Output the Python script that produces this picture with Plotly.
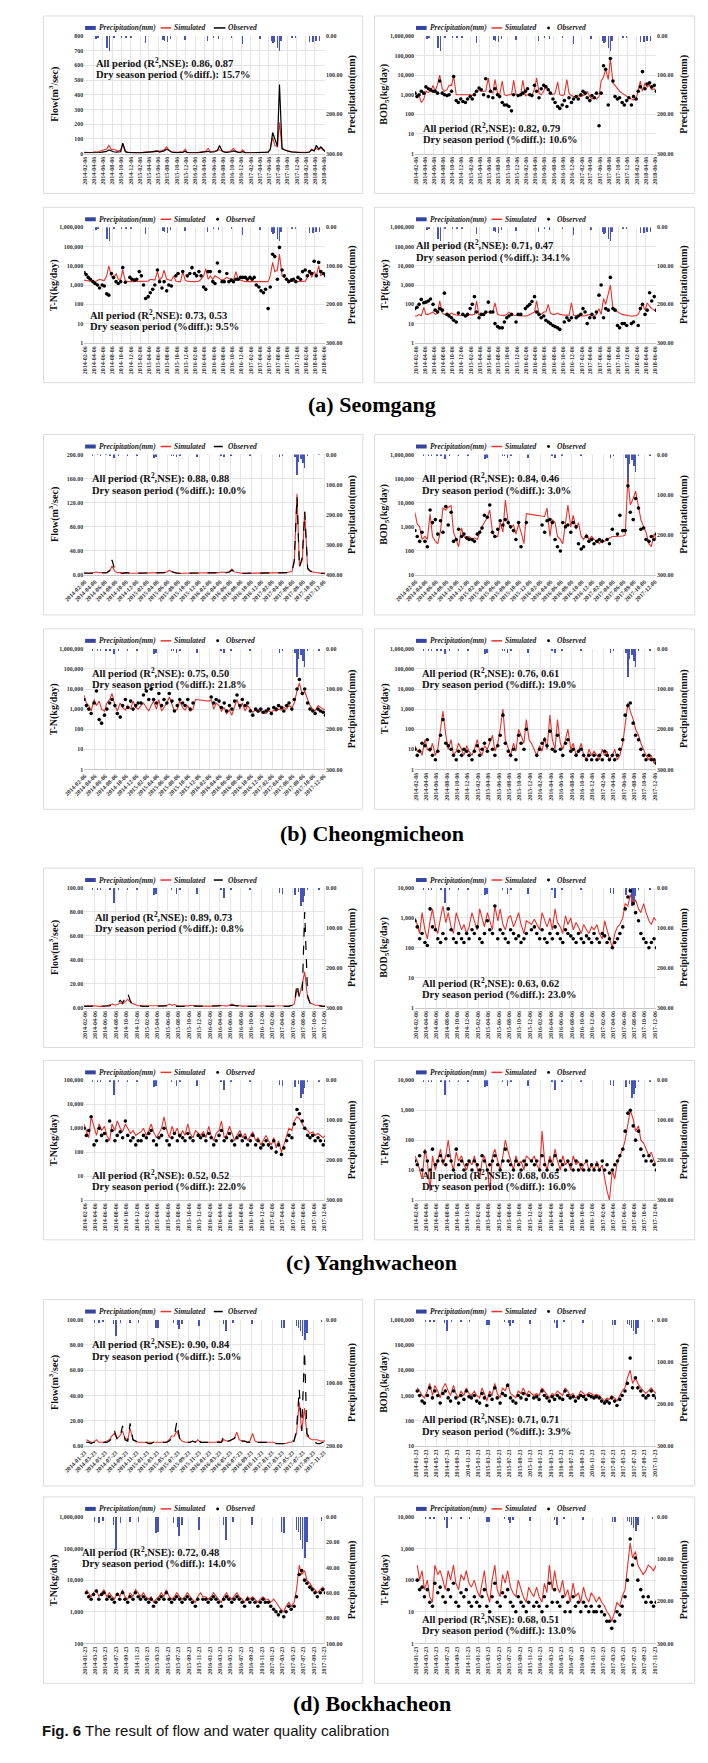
import plotly.graph_objects as go
import pandas as pd

W, H = 708, 1763

# ---------------- time grids (semi-monthly reading points) ----------------
dates_a = [d.strftime("%Y-%m-%d") for d in pd.date_range("2014-02-01", "2018-06-15", freq="SMS")]
dates_bcd = [d.strftime("%Y-%m-%d") for d in pd.date_range("2014-02-01", "2017-12-15", freq="SMS")]

ticks_a = ["2014-02-06", "2014-04-06", "2014-06-06", "2014-08-06", "2014-10-06", "2014-12-06",
           "2015-02-06", "2015-04-06", "2015-06-06", "2015-08-06", "2015-10-06", "2015-12-06",
           "2016-02-06", "2016-04-06", "2016-06-06", "2016-08-06", "2016-10-06", "2016-12-06",
           "2017-02-06", "2017-04-06", "2017-06-06", "2017-08-06", "2017-10-06", "2017-12-06",
           "2018-02-06", "2018-04-06", "2018-06-06"]
ticks_bc = ticks_a[:24]
ticks_d = ["2014-01-23", "2014-03-23", "2014-05-23", "2014-07-23", "2014-09-23", "2014-11-23",
           "2015-01-23", "2015-03-23", "2015-05-23", "2015-07-23", "2015-09-23", "2015-11-23",
           "2016-01-23", "2016-03-23", "2016-05-23", "2016-07-23", "2016-09-23", "2016-11-23",
           "2017-01-23", "2017-03-23", "2017-05-23", "2017-07-23", "2017-09-23", "2017-11-23"]

# ---------------- precipitation (mm) ----------------
a_pr_dates = ["2014-04-21", "2014-05-05", "2014-07-04", "2014-07-21", "2014-08-19", "2014-10-07", "2014-11-07",
              "2014-12-09", "2015-03-14", "2015-07-10", "2015-07-18", "2015-08-08", "2015-08-29", "2015-12-02",
              "2016-04-27", "2016-06-08", "2016-07-10", "2016-10-02", "2016-12-15", "2017-04-10", "2017-06-23",
              "2017-07-04", "2017-07-10", "2017-08-04", "2017-08-15", "2017-08-25", "2017-11-07", "2017-11-28",
              "2018-03-03", "2018-03-24", "2018-04-14", "2018-05-06"]
a_pr_vals = [8, 5, 30, 37, 6, 5, 4, 5, 17, 10, 12, 15, 8, 10, 14, 6, 8, 6, 20, 8, 12, 18, 15, 30, 37, 12, 5, 6,
             15, 15, 12, 14]

b_pr_dates = ["2014-03-24", "2014-04-21", "2014-05-10", "2014-06-10", "2014-07-04", "2014-07-28", "2014-08-23",
              "2014-10-14", "2014-12-09", "2015-03-17", "2015-03-30", "2015-06-30", "2015-07-10", "2015-07-28",
              "2015-08-16", "2015-11-25", "2016-04-12", "2016-05-01", "2016-06-12", "2016-09-30", "2017-03-21",
              "2017-04-08", "2017-06-21", "2017-07-03", "2017-07-10", "2017-07-25", "2017-08-07", "2017-08-14",
              "2017-08-31", "2017-11-07"]
b_pr_vals = [4, 3, 5, 3, 5, 12, 4, 5, 4, 12, 10, 4, 6, 10, 4, 10, 5, 10, 4, 5, 10, 6, 10, 70, 25, 15, 30, 45, 5, 3]

c_pr_dates = ["2014-03-24", "2014-04-21", "2014-05-10", "2014-07-04", "2014-07-28", "2014-08-23", "2014-10-14",
              "2014-12-09", "2015-03-17", "2015-03-30", "2015-06-30", "2015-07-28", "2015-08-16", "2015-11-25",
              "2016-04-12", "2016-05-01", "2016-06-12", "2016-09-30", "2017-03-21", "2017-04-08", "2017-06-21",
              "2017-07-10", "2017-07-25", "2017-08-07", "2017-08-16", "2017-08-31", "2017-11-07"]
c_pr_vals = [5, 4, 5, 5, 38, 6, 4, 4, 18, 16, 5, 14, 5, 14, 4, 26, 4, 6, 12, 15, 18, 10, 45, 35, 20, 5, 4]

d_pr_dates = ["2014-03-20", "2014-04-18", "2014-05-10", "2014-07-10", "2014-07-24", "2014-08-20", "2014-10-15",
              "2014-12-05", "2015-03-16", "2015-03-28", "2015-06-28", "2015-07-20", "2015-07-28", "2015-08-15",
              "2015-11-22", "2016-04-15", "2016-04-28", "2016-06-10", "2016-09-28", "2017-03-20", "2017-04-05",
              "2017-06-15", "2017-06-28", "2017-07-10", "2017-07-20", "2017-08-05", "2017-08-15", "2017-11-10"]
d_pr_vals = [4, 5, 3, 6, 26, 5, 4, 4, 13, 12, 5, 8, 15, 6, 10, 6, 18, 4, 6, 12, 13, 10, 12, 18, 25, 32, 20, 3]

# ---------------- (a) Seomgang ----------------
a_flow_sim = [8, 7, 6, 7, 9, 12, 10, 14, 20, 25, 30, 55, 25, 30, 20, 15, 25, 65, 18, 10, 8, 7,
              6, 5, 5, 6, 8, 10, 15, 12, 10, 18, 20, 15, 20, 25, 45, 25, 12, 10, 8, 8, 12, 10, 30, 8,
              6, 5, 5, 6, 8, 10, 12, 15, 35, 12, 14, 18, 20, 25, 15, 12, 10, 12, 20, 35, 15, 12, 10, 25,
              6, 5, 5, 5, 6, 7, 7, 8, 8, 9, 12, 30, 110, 55, 45, 210, 30, 25, 20, 15, 12, 10, 9, 8,
              7, 6, 6, 8, 10, 30, 20, 35, 25, 40, 20, 15]
a_flow_obs = [5, 5, 4, 5, 6, 8, 6, 7, 10, 12, 14, 25, 15, 12, 10, 9, 12, 70, 12, 8, 6, 5,
              4, 4, 4, 5, 6, 8, 10, 9, 8, 12, 15, 10, 14, 18, 30, 20, 10, 8, 6, 6, 8, 7, 15, 6,
              5, 4, 4, 5, 6, 8, 9, 10, 15, 9, 10, 12, 20, 55, 18, 10, 8, 9, 12, 18, 10, 8, 7, 12,
              5, 4, 4, 4, 5, 6, 6, 7, 7, 8, 10, 25, 143, 100, 50, 470, 35, 25, 18, 14, 11, 9, 8, 7,
              6, 5, 5, 7, 10, 25, 18, 55, 30, 45, 25, 12]
a_bod_sim = [1200, 1000, 900, 400, 600, 1500, 1300, 1500, 3000, 1500, 3500, 10000, 2000, 1500, 1800, 3000, 3000, 9000, 1000, 1000, 1000, 1000,
             1000, 1000, 1000, 900, 1200, 1500, 1800, 1500, 1500, 1500, 7000, 1500, 1200, 6000, 1200, 1000, 5000, 1000, 900, 1000, 1000, 5500, 1000, 900,
             1000, 5500, 900, 1000, 1000, 900, 2000, 7000, 1200, 1000, 1500, 3000, 1800, 1200, 1000, 1200, 4500, 1000, 900, 1000, 6000, 1200, 900, 800,
             800, 900, 800, 900, 1000, 1500, 800, 600, 700, 600, 800, 5000, 8000, 20000, 6000, 70000, 4000, 3000, 2000, 1500, 1200, 1000, 800, 700,
             600, 550, 600, 2000, 5000, 1500, 4000, 2500, 3000, 1800, 2000, 1500]
a_bod_obs = [1200, 800, 1000, 1500, 1200, 2500, 2000, 1800, 1500, 1500, 1200, 5000, 1200, 1000, 900, 1000, 1500, 8500, 500, 400, 600, 450,
             400, 600, 800, 600, 1000, 1500, 2200, 1800, 1000, 6500, 800, 1500, 700, 2000, 1000, 800, 400, 300, 300, 250, 150, 1000, None, 900,
             1000, 1200, 1500, 2000, 1000, 900, 3000, 1500, 700, 2000, 3000, 2500, 1800, 1200, 600, 400, 250, 200, 300, 500, 250, 700, 400, 600,
             800, 600, 1000, 1500, 1200, 700, 500, 900, 700, 1200, 26, 1200, 30000, 20000, 300, 70000, 5000, 800, 600, 700, 400, 300, 500, 700,
             300, 800, 600, 1500, 2500, 15000, 2000, 3500, 4000, 2500, 3000, 1500]
a_tn_sim = [1800, 1700, 1600, 1600, 1500, 1500, 1800, 2000, 1800, 1700, 3000, 10000, 3000, 2000, 4000, 2000, 2000, 6000, 1600, 1500, 1500, 1500,
            1500, 1500, 1500, 1600, 1500, 1500, 1600, 2000, 1800, 1800, 5000, 1800, 2500, 6000, 2000, 1800, 1700, 3000, 1600, 1500, 1500, 5000, 1800, 1600,
            1500, 1500, 1500, 1600, 1600, 2000, 3000, 7000, 2000, 3000, 2000, 3000, 2500, 2000, 1800, 2000, 2500, 2200, 2000, 1800, 5000, 2000, 1800, 1600,
            1500, 1500, 1500, 1500, 1600, 1500, 1500, 1500, 1500, 1600, 1500, 3000, 15000, 5000, 6000, 40000, 3000, 2500, 2000, 1800, 1600, 1500, 1500, 1500,
            1500, 1500, 1600, 2500, 5000, 2500, 5000, 3000, 10000, 3000, 4000, 3000]
a_tn_obs = [4500, 3500, 2500, 2000, 1500, 1200, 1000, 700, 1000, 900, 350, 300, 4000, 2500, 1500, 1200, 1500, 8000, 1400, None, 2500, 2000,
            1800, 2000, 5000, 3000, 1000, 200, 250, 400, 600, 1000, 6000, 1500, 700, 1500, 500, 1000, 900, None, 3000, 4000, None, 5000, None, 3000,
            4000, 8000, 4000, 3000, 5000, 3000, 800, 600, 5000, 5000, 1500, 1200, 14000, 5000, 1500, 1500, 4000, 1500, 1800, 1500, 2000, 2000, 2500, 2500,
            2500, 2000, 2500, 2000, 2500, 1000, 800, 500, 400, 600, 60, 800, 40000, 30000, 2000, 90000, 6000, 3000, 2000, 1500, 1800, 2000, 1500, 2500,
            2000, 5000, 6000, 3000, 5000, 4000, 17000, 3000, 15000, 5000, 4000, 3000]
a_tp_sim = [25, 25, 30, 25, 70, 30, 30, 35, 40, 30, 35, 150, 35, 30, 30, 30, 35, 30, 28, 27, 26, 25,
            25, 25, 30, 28, 30, 150, 27, 28, 30, 35, 40, 35, 40, 120, 30, 28, 27, 26, 30, 40, 28, 27, 26, 25,
            25, 25, 25, 26, 30, 35, 40, 150, 30, 30, 40, 40, 100, 35, 30, 30, 35, 30, 28, 27, 28, 27, 120, 27,
            26, 25, 25, 25, 26, 27, 30, 25, 25, 30, 60, 30, 200, 100, 300, 1000, 60, 50, 40, 35, 30, 28, 26, 25,
            24, 25, 26, 30, 60, 100, 50, 120, 80, 60, 50, 40]
a_tp_obs = [60, 70, 100, 180, 120, 130, 150, 190, 100, 50, 40, 60, 50, 380, 30, 25, 20, 15, 12, 35, None, 30,
            25, 30, 60, 100, 250, 40, 20, 30, 30, 40, 130, 40, 40, 10, 7, 6, 6, 12, 20, 25, 30, None, 12, 30,
            30, None, 60, 80, 100, 140, 250, 40, 30, 20, 25, 15, 12, 10, 8, 7, 6, 5, None, 12, 20, 15, 20, None,
            20, 25, 30, 60, 40, 10, 20, 30, 20, 40, 300, 1000, 20, 60, 50, 2500, 60, 50, 8, 6, 10, 10, 8, None,
            10, 12, None, 8, 60, 100, 30, 50, 400, 150, 250, 50]

# ---------------- (b) Cheongmicheon ----------------
b_flow_sim = [4, 3, 3, 3, 4, 5, 4, 4, 3, 4, 6, 15, 6, 4, 4, 3, 4, 3, 3, 3, 3, 3,
              3, 3, 3, 3, 4, 3, 3, 3, 3, 4, 5, 8, 5, 4, 3, 3, 3, 3, 3, 4, 3, 3, 3, 3,
              3, 3, 3, 3, 3, 4, 4, 5, 4, 4, 6, 10, 5, 4, 4, 3, 3, 3, 4, 3, 3, 3, 3, 3,
              3, 3, 3, 3, 3, 3, 4, 4, 4, 5, 6, 20, 135, 15, 25, 105, 10, 6, 5, 4, 4, 3, 3, 3]
b_flow_obs = [3, 3, 3, 3, 3, 4, 4, 3, 3, 4, 8, 25, 8, 5, 4, 3, 4, 3, 3, 3, 3, 3,
              3, 3, 3, 3, 3, 3, 3, 3, 3, 4, 5, 10, 6, 4, 3, 3, 3, 3, 3, 3, 3, 3, 3, 3,
              3, 3, 3, 3, 3, 3, 4, 4, 4, 4, 5, 8, 5, 4, 3, 3, 3, 3, 3, 3, 3, 3, 3, 3,
              3, 3, 3, 3, 3, 3, 3, 4, 4, 4, 5, 25, 130, 12, 30, 105, 12, 7, 5, 4, 3, 3, 3, 3]
b_bod_sim = [4000, 1300, 1000, 300, 400, 300, 3500, 400, 250, 200, 700, 6000, 5000, 6500, 7500, 600, 300, 150, 900, 400, 300, 400,
             300, 350, 300, 600, 1000, 1500, 2500, 5000, 600, 400, 400, 1500, 600, 13000, 1500, 900, 1200, 500, 1300, 600, 200, 3500, 3300, 3200,
             3100, 3000, 2900, 2800, 2700, 6000, 400, 2000, 1500, 400, 300, 200, 1500, 8000, 1000, 3000, 800, 1500, 400, 300, 500, 300, 400, 300,
             250, 200, 300, 250, 300, 350, 400, 400, 400, 400, 420, 450, 100000, 8000, 15000, 30000, 8000, 2000, 1000, 600, 200, 150, 500, 300]
b_bod_obs = [700, 400, 250, 600, 250, 150, 5000, 1500, 2000, 500, 1800, 600, 7000, 1200, 4000, 250, 300, 800, 400, 500, 350, 300,
             300, 250, 500, 600, 900, 3000, 2500, 8000, 600, 400, 800, 1800, 1200, 2000, 1500, 1000, 700, 300, 1500, 150, None, 1500, None, None,
             None, None, None, 1200, 600, 1800, 2000, 1500, 300, 150, 100, 1500, 1000, 1200, 600, 1500, 1000, 200, 120, 150, 400, 250, 300, 200,
             250, 300, 250, None, 300, 200, 800, None, 500, 3000, 700, 700, 50000, 4000, 2000, 15000, 6000, 800, 900, 300, 250, 400, 300, 500]
b_tn_sim = [5000, 2000, 1500, 800, 3000, 1500, 2500, 1000, 800, 2000, 3000, 6000, 1500, 800, 2000, 1200, 900, 1500, 1000, 2500, 1200, 1000,
            1500, 2000, 1200, 800, 1500, 2500, 1000, 3000, 800, 1200, 2000, 4000, 1500, 800, 1000, 2500, 1200, 900, 1500, 800, 1000, 3000, 2900, 2800,
            2700, 2600, 2500, 3000, 1000, 2000, 1500, 800, 1200, 600, 900, 500, 1500, 3000, 1000, 2000, 800, 1500, 1000, 700, 900, 700, 800, 600,
            600, 800, 700, 900, 800, 1000, 900, 1200, 1000, 1500, 1200, 2000, 8000, 20000, 5000, 8000, 3000, 1500, 1000, 800, 1500, 1200, 1000, 900]
b_tn_obs = [3000, 1500, 1000, 600, 2000, 8000, 300, 200, 500, 1000, 2000, 3000, 1500, 600, 400, 1500, 3000, 1200, 2500, 1000, 1500, 2000,
            2000, 5000, 8000, 3000, 10000, 3000, 2000, 6000, 1500, 3000, 2000, 6000, 2500, 800, 1500, 3000, 2000, 1500, 3000, 1000, 2000, None, None, None,
            None, None, None, 4000, 2000, 3000, 2500, 1200, 2000, 800, 1500, 1000, 2500, 5000, 1500, 3000, 1500, 2000, 800, 500, 1000, 800, 1000, 700,
            800, 1000, 600, 1200, 1000, 1500, 1200, 800, 1500, 2000, 1000, 3000, 10000, 30000, 6000, 10000, 2000, 1000, 800, 600, 1000, 800, 700, 500]
b_tp_sim = [15, 8, 10, 5, 30, 10, 8, 20, 5, 10, 100, 800, 50, 10, 30, 5, 8, 20, 10, 5, 15, 8,
            5, 10, 30, 8, 5, 15, 10, 20, 50, 8, 20, 100, 1000, 30, 10, 5, 20, 8, 100, 50, 20, 300, 30, 20,
            10, 5, 15, 8, 40, 10, 500, 30, 10, 300, 20, 10, 30, 100, 10, 20, 5, 8, 20, 5, 3, 10, 5, 8,
            5, 3, 10, 5, 8, 3, 5, 10, 3, 5, 20, 200, 2000, 800, 300, 100, 50, 20, 10, 5, 3, 5, 2, 3]
b_tp_obs = [10, 5, 8, 20, 15, 30, 10, 5, 3, 8, 50, 300, 20, 15, 10, 5, 3, 8, 5, 10, 8, 5,
            3, 8, 15, 5, 10, 20, 8, 30, 10, 5, 15, 50, 500, 20, 8, 5, 10, 3, 50, 20, 10, 100, None, None,
            None, 5, 10, 20, 30, 15, 80, 10, 8, 50, 10, 5, 20, 30, 8, 10, 5, 8, 10, 5, 3, 5, 3, 5,
            3, 5, 3, 8, 5, 3, 5, 3, 5, 10, 30, 500, 1500, 2000, 200, 50, 30, 10, 5, 3, 5, 3, 3, 2]

# ---------------- (c) Yanghwacheon ----------------
c_flow_sim = [1.5, 1.2, 1.0, 1.2, 1.5, 1.2, 1.0, 1.2, 1.0, 1.5, 2, 3, 2, 2.5, 4, 3, 5, 7, 4, 3, 2, 1.5,
              1.5, 1.2, 1.2, 1.5, 1.5, 1.2, 1.5, 1.2, 1.2, 1.5, 2, 3, 2, 2.5, 1.5, 1.2, 1.2, 1.5, 1.2, 2, 1.5, 1.2, 1.2, 1.2,
              1.2, 1.2, 1.2, 1.5, 1.5, 1.2, 2, 2, 1.5, 1.2, 2, 3, 2, 2, 1.5, 1.2, 1.2, 1.5, 1.2, 1.2, 1.2, 1.2, 1.2, 1.2,
              1.2, 1.2, 1.0, 1.0, 1.2, 1.0, 1.0, 1.2, 1.2, 1.5, 2, 3, 15, 10, 20, 30, 8, 4, 3, 2, 2, 1.5, 1.2, 1.2]
c_flow_obs = [1, 1, 1, 1, 1, 1, 1, 1, 1, 1, 1.5, 2, 2, 3, 6, 4, 8, 12, 5, 3, 2, 1.5,
              1, 1, 1, 1, 1, 1, 1, 1, 1, 1, 1.5, 2, 2, 1.5, 1, 1, 1, 1, 1, 1, 1, 1, 1, 1,
              1, 1, 1, 1, 1, 1, 1.5, 1.5, 1, 1, 1.5, 2, 2, 1.5, 1, 1, 1, 1, 1, 1, 1, 1, 1, 1,
              1, 1, 1, 1, 1, 1, 1, 1, 1, 1, 2, 3, 20, 8, 15, 80, 10, 4, 3, 2, 1.5, 1, 1, 1]
c_bod_sim = [1000, 600, 300, 1500, 400, 200, 800, 2000, 500, 300, 1000, 2500, 700, 1500, 500, 300, 1500, 800, 400, 600, 300, 500,
             1500, 800, 400, 2000, 1000, 500, 1500, 800, 400, 2500, 800, 2000, 600, 400, 1000, 1200, 500, 800, 1500, 600, 300, 800, 700, 600,
             900, 600, 400, 1500, 800, 500, 1000, 400, 2000, 700, 500, 300, 1200, 600, 1000, 400, 700, 500, 300, 600, 400, 300, 500, 400,
             600, 300, 200, 800, 400, 200, 100, 300, 500, 600, 1000, 3000, 2500, 6000, 3000, 4000, 2000, 1500, 3000, 1500, 800, 600, 1000, 800]
c_bod_obs = [800, 500, 200, 300, 150, 120, 2000, 500, 400, 200, 150, 300, 200, 2000, 400, 200, 150, 300, 200, 150, 300, 200,
             400, 300, 500, 200, 150, 300, 800, 400, 300, 2500, 200, 400, 300, 200, 150, 400, 300, 200, 250, 150, 200, 300, None, 400,
             500, 300, 200, 400, 200, 150, 300, 200, 500, 300, 200, 150, 400, 300, 250, 200, 150, 300, 200, 150, 250, 200, 150, 300,
             200, 150, 300, 250, 150, 200, 100, 150, 200, 300, 500, 2000, 5000, 8000, 3000, 1500, 800, 300, 200, 150, 100, 150, 200, 100]
c_tn_sim = [1500, 800, 400, 3000, 1000, 500, 1500, 800, 1200, 500, 300, 1500, 800, 2000, 1000, 700, 1500, 1000, 600, 800, 500, 600,
            700, 1000, 500, 800, 1500, 700, 400, 600, 1000, 3000, 800, 400, 1200, 600, 1000, 400, 800, 500, 1500, 600, 400, 800, 600, 500,
            700, 400, 1200, 500, 300, 600, 800, 2000, 400, 500, 1200, 600, 300, 500, 800, 400, 600, 300, 500, 700, 300, 400, 200, 300,
            500, 300, 200, 400, 150, 300, 100, 200, 500, 1000, 800, 2000, 3000, 2500, 1500, 1000, 800, 600, 700, 500, 600, 500, 400, 500]
c_tn_obs = [1000, 500, 800, 3000, 200, 300, 1000, 500, 600, 300, 2000, 800, 300, 500, 700, 400, 2000, 500, 300, 400, 200, 300,
            300, 500, 400, 600, 800, 300, 200, 400, 500, 1000, 300, 200, 400, 600, 300, 500, 400, 300, 600, 400, 300, None, 500, 400,
            500, 300, 600, 400, 200, 300, 500, 800, 300, 400, 600, 300, 200, 400, 500, 300, 400, 200, 300, 500, 200, 300, 150, 200,
            300, 200, 150, 300, 100, 200, 80, 150, 300, 500, 400, 1500, 6000, 4000, 2000, 1000, 500, 400, 500, 300, 400, 300, 200, 300]
c_tp_sim = [30, 20, 10, 5, 50, 20, 2, 30, 10, 20, 50, 15, 30, 100, 20, 10, 40, 20, 30, 15, 10, 20,
            15, 30, 10, 5, 20, 30, 10, 2, 30, 50, 20, 10, 30, 100, 40, 20, 10, 30, 15, 20, 10, 30, 25, 20,
            30, 15, 10, 200, 20, 10, 30, 15, 50, 20, 10, 30, 15, 20, 10, 30, 15, 20, 10, 15, 20, 10, 15, 10,
            20, 10, 15, 5, 2, 1, 10, 5, 20, 30, 50, 100, 300, 1000, 500, 200, 300, 100, 80, 50, 30, 40, 20, 15]
c_tp_obs = [20, 15, 30, 10, 40, 20, 10, 50, 15, 20, 30, 20, 15, 30, 20, 10, 50, 15, 20, 10, 15, 20,
            10, 20, 15, 10, 30, 20, 10, 15, 20, 30, 15, 10, 20, 50, 20, 15, 10, 20, 15, 10, 20, 15, None, 20,
            15, 20, 10, 30, 15, 10, 20, 15, 30, 10, 20, 15, 10, 20, 15, 10, 20, 10, 15, 10, 20, 10, 15, 10,
            15, 10, 20, 10, 15, 8, 10, 15, 20, 30, 50, 200, 800, 1000, 300, 100, 200, 50, 30, 20, 30, 20, 15, 10]

# ---------------- (d) Bockhacheon ----------------
d_flow_sim = [5, 4, 3, 3, 5, 3, 3, 3, 4, 5, 8, 10, 6, 8, 12, 6, 5, 14, 5, 4, 3, 3,
              3, 3, 3, 3, 3, 3, 3, 3, 3, 3, 5, 8, 8, 12, 6, 4, 3, 3, 3, 4, 3, 5, 3, 3,
              3, 3, 3, 3, 3, 4, 3, 5, 4, 4, 5, 6, 11, 5, 4, 4, 3, 4, 10, 4, 3, 3, 3, 3,
              3, 3, 3, 2, 2, 2, 2, 2, 3, 3, 5, 10, 35, 12, 30, 8, 6, 5, 5, 5, 4, 4, 4, 3]
d_flow_obs = [3, 3, 2, 3, 3, 2, 2, 3, 3, 4, 6, 12, 5, 6, 16, 5, 4, 18, 5, 4, 3, 3,
              3, 3, 2, 2, 3, 3, 3, 3, 3, 3, 4, 6, 8, 19, 6, 4, 3, 3, 3, 4, 3, 7, 3, 3,
              3, 3, 3, 3, 3, 3, 3, 8, 4, 4, 5, 6, 8, 5, 4, 4, 3, 3, 5, 4, 3, 3, 3, 3,
              3, 3, 2, 2, 2, 2, 2, 2, 3, 3, 4, 13, 45, 12, 75, 10, 6, 4, 3, 2, 2, 3, 3, 3]
d_bod_sim = [2000, 1500, 1000, 800, 1500, 3000, 1000, 2500, 1500, 800, 2000, 3000, 1500, 1000, 2500, 1200, 800, 1500, 1000, 2000, 1200, 1000,
             1500, 1000, 800, 2000, 1200, 600, 1500, 1000, 3000, 1200, 800, 2000, 1500, 3000, 1200, 1000, 800, 1500, 1200, 2000, 1000, 1500, 1200, 1000,
             1200, 1000, 2000, 1500, 1000, 800, 1200, 1000, 1500, 1200, 1000, 2000, 1500, 1000, 1200, 800, 1000, 1500, 1200, 1000, 1300, 1200, 1000, 1100,
             1000, 800, 600, 800, 700, 1000, 800, 600, 1000, 1500, 2000, 5000, 10000, 3000, 5000, 3000, 2000, 1500, 1200, 1500, 2000, 1500, 1200, 1500]
d_bod_obs = [1500, 1000, 600, 500, 1000, 2000, 800, 1500, 1000, 500, 1200, 1500, 800, 600, 1500, 800, 500, 1000, 700, 1500, 900, 800,
             1000, 600, 500, 1200, 800, 400, 1000, 700, 2000, 800, 500, 1200, 1000, 2500, 800, 600, 500, 1000, 800, 1200, 700, 1000, None, 800,
             900, 700, 1500, 1000, 800, 600, 900, 700, 1000, 800, 700, 1500, 1000, 800, 900, 600, 800, 1000, 900, 700, 1000, 900, 800, 900,
             800, 600, 500, 600, 500, 800, 600, 400, 700, 1000, 1500, 3000, 30000, 2000, 5000, 2000, 1500, 1000, 800, 1000, 1500, 1000, 800, 1200]
d_tn_sim = [5000, 4000, 3000, 4000, 5000, 3000, 4000, 5000, 3000, 4000, 3000, 2500, 4000, 3000, 5000, 3000, 2500, 4000, 3000, 5000, 4000, 3000,
            4000, 3000, 2500, 3000, 2000, 2500, 3000, 4000, 3000, 5000, 3000, 2500, 3000, 4000, 3000, 2500, 3000, 4000, 3000, 2500, 2000, 3000, 4000, 3000,
            3000, 2500, 3000, 4000, 3000, 2500, 2000, 3000, 4000, 3000, 2500, 3000, 4000, 3000, 2500, 2000, 3000, 2500, 3000, 2500, 2000, 2500, 3000, 2500,
            2500, 2000, 2500, 2000, 1500, 1200, 1000, 1500, 2000, 1500, 2000, 5000, 30000, 15000, 20000, 10000, 8000, 6000, 5000, 4000, 5000, 6000, 5000, 4000]
d_tn_obs = [4000, 3000, 2500, 3500, 4500, 2500, 3500, 4000, 2500, 3000, 2500, 2000, 3500, 2500, 4000, 2500, 2000, 3000, 2500, 4000, 3000, 2500,
            3000, 2500, 2000, 2500, 1500, 2000, 2500, 3000, 2500, 4000, 2500, 2000, 2500, 3000, 2500, 2000, 2500, 3000, 2500, 2000, 1500, 2500, None, 2500,
            2500, 2000, 2500, 3000, 2500, 2000, 1500, 2500, 3000, 2500, 2000, 2500, 3000, 2500, 2000, 1500, 2500, 2000, 2500, 2000, 1500, 2000, 2500, 2000,
            2000, 1500, 1200, 1000, 800, 1000, 700, 1000, 1500, 1200, 1500, 3000, 15000, 20000, 10000, 8000, 6000, 5000, 4000, 3000, 4000, 5000, 4000, 3000]
d_tp_sim = [300, 100, 200, 50, 100, 30, 20, 300, 150, 200, 100, 50, 200, 100, 300, 80, 50, 150, 100, 200, 80, 60,
            100, 50, 30, 80, 200, 40, 20, 100, 300, 50, 30, 150, 80, 200, 60, 40, 30, 100, 50, 30, 20, 60, 40, 30,
            60, 30, 20, 80, 40, 300, 50, 200, 60, 40, 100, 30, 50, 20, 80, 30, 40, 20, 60, 30, 20, 40, 30, 20,
            30, 20, 15, 10, 8, 5, 10, 20, 15, 30, 50, 200, 1500, 500, 800, 300, 200, 150, 200, 300, 250, 200, 300, 250]
d_tp_obs = [100, 50, 60, 30, 50, 20, 15, 80, 40, 60, 30, 20, 50, 30, 80, 20, 15, 40, 30, 50, 20, 15,
            30, 20, 15, 30, 50, 15, 10, 30, 80, 20, 15, 40, 30, 50, 20, 15, 10, 30, 20, 15, 10, 20, None, 15,
            20, 15, 10, 30, 15, 80, 20, 50, 20, 15, 30, 10, 20, 10, 30, 15, 20, 10, 20, 15, 10, 15, 10, 10,
            15, 10, 8, 5, 5, 3, 5, 10, 8, 15, 30, 100, 2000, 300, 500, 100, 50, 30, 20, 30, 20, 15, 20, 15]

# statistics text
stats = [("0.86, 0.87", "15.7%"), ("0.82, 0.79", "10.6%"), ("0.73, 0.53", "9.5%"), ("0.71, 0.47", "34.1%"),
         ("0.88, 0.88", "10.0%"), ("0.84, 0.46", "3.0%"), ("0.75, 0.50", "21.8%"), ("0.76, 0.61", "19.0%"),
         ("0.89, 0.73", "0.8%"), ("0.63, 0.62", "23.0%"), ("0.52, 0.52", "22.0%"), ("0.68, 0.65", "16.0%"),
         ("0.90, 0.84", "5.0%"), ("0.71, 0.71", "3.9%"), ("0.72, 0.48", "14.0%"), ("0.68, 0.51", "13.0%")]
captions = ["(a) Seomgang", "(b) Cheongmicheon", "(c) Yanghwacheon", "(d) Bockhacheon"]
ytitles = {"flow": "Flow(m<sup>3</sup>/sec)", "bod": "BOD<sub>5</sub>(kg/day)", "tn": "T-N(kg/day)", "tp": "T-P(kg/day)"}
legend_names = ["Precipitation(mm)", "Simulated", "Observed"]

# ---------------- styling / layout helpers ----------------
SERIF = "Liberation Serif, Times New Roman, serif"
RED = "#e8322b"
BLUE = "#4656b8"
GRID = "#e4e4e4"
BOXLINE = "#dcdcdc"
TICKFONT = dict(family=SERIF, size=6, color="#333333", weight="bold")
LEGFONT = dict(family=SERIF, size=7.5, color="#222222", weight="bold", style="italic")

COLS = {0: (15, 345), 1: (357, 688)}
BOXES = {(0, 0): (5, 183), (0, 1): (197, 373), (1, 0): (425, 606), (1, 1): (620, 801),
         (2, 0): (860, 1040), (2, 1): (1053, 1233), (3, 0): (1293, 1480), (3, 1): (1491, 1678)}
CAPTION_Y = [395, 825, 1256, 1698]


def lin_axis(hi, step, fmt):
    vals = [i * step for i in range(int(round(hi / step)) + 1)]
    return dict(type="linear", range=[0, hi], tickvals=vals, ticktext=[fmt.format(v) for v in vals])


def log_axis(lo, hi):
    vals = [10 ** k for k in range(lo, hi + 1)]
    return dict(type="log", range=[lo, hi], tickvals=vals, ticktext=[f"{v:,}" for v in vals])


def pr_axis(hi, step):
    vals = [i * step for i in range(int(round(hi / step)) + 1)]
    return dict(range=[hi, 0], tickvals=vals, ticktext=[f"{v:.2f}" for v in vals])


A_PR = (a_pr_dates, a_pr_vals)
B_PR = (b_pr_dates, b_pr_vals)
C_PR = (c_pr_dates, c_pr_vals)
D_PR = (d_pr_dates, d_pr_vals)

panels = [
    # group a
    dict(g=0, r=0, c=0, kind="flow", dates=dates_a, sim=a_flow_sim, obs=a_flow_obs, pr=A_PR, ticks=ticks_a, ang=-90,
         y=lin_axis(800, 100, "{:.0f}"), p=pr_axis(300, 100), st=(67, 52), dash="solid"),
    dict(g=0, r=0, c=1, kind="bod", dates=dates_a, sim=a_bod_sim, obs=a_bod_obs, pr=A_PR, ticks=ticks_a, ang=-90,
         y=log_axis(0, 6), p=pr_axis(300, 100), st=(405, 117)),
    dict(g=0, r=1, c=0, kind="tn", dates=dates_a, sim=a_tn_sim, obs=a_tn_obs, pr=A_PR, ticks=ticks_a, ang=-90,
         y=log_axis(0, 6), p=pr_axis(300, 100), st=(61, 305)),
    dict(g=0, r=1, c=1, kind="tp", dates=dates_a, sim=a_tp_sim, obs=a_tp_obs, pr=A_PR, ticks=ticks_a, ang=-90,
         y=log_axis(0, 6), p=pr_axis(300, 100), st=(398, 235)),
    # group b
    dict(g=1, r=0, c=0, kind="flow", dates=dates_bcd, sim=b_flow_sim, obs=b_flow_obs, pr=B_PR, ticks=ticks_bc, ang=-45,
         y=lin_axis(200, 40, "{:.2f}"), p=pr_axis(400, 100), st=(63, 469), dash="dash"),
    dict(g=1, r=0, c=1, kind="bod", dates=dates_bcd, sim=b_bod_sim, obs=b_bod_obs, pr=B_PR, ticks=ticks_bc, ang=-45,
         y=log_axis(1, 6), p=pr_axis(300, 100), st=(404, 469)),
    dict(g=1, r=1, c=0, kind="tn", dates=dates_bcd, sim=b_tn_sim, obs=b_tn_obs, pr=B_PR, ticks=ticks_bc, ang=-45,
         y=log_axis(0, 6), p=pr_axis(300, 100), st=(63, 664)),
    dict(g=1, r=1, c=1, kind="tp", dates=dates_bcd, sim=b_tp_sim, obs=b_tp_obs, pr=B_PR, ticks=ticks_bc, ang=-90,
         y=log_axis(0, 6), p=pr_axis(300, 100), st=(404, 664)),
    # group c
    dict(g=2, r=0, c=0, kind="flow", dates=dates_bcd, sim=c_flow_sim, obs=c_flow_obs, pr=C_PR, ticks=ticks_bc, ang=-90,
         y=lin_axis(100, 20, "{:.2f}"), p=pr_axis(300, 100), st=(66, 909), dash="dash"),
    dict(g=2, r=0, c=1, kind="bod", dates=dates_bcd, sim=c_bod_sim, obs=c_bod_obs, pr=C_PR, ticks=ticks_bc, ang=-90,
         y=log_axis(0, 4), p=pr_axis(300, 100), st=(404, 975)),
    dict(g=2, r=1, c=0, kind="tn", dates=dates_bcd, sim=c_tn_sim, obs=c_tn_obs, pr=C_PR, ticks=ticks_bc, ang=-90,
         y=log_axis(0, 5), p=pr_axis(300, 100), st=(63, 1168)),
    dict(g=2, r=1, c=1, kind="tp", dates=dates_bcd, sim=c_tp_sim, obs=c_tp_obs, pr=C_PR, ticks=ticks_bc, ang=-90,
         y=log_axis(0, 4), p=pr_axis(300, 100), st=(404, 1168)),
    # group d
    dict(g=3, r=0, c=0, kind="flow", dates=dates_bcd, sim=d_flow_sim, obs=d_flow_obs, pr=D_PR, ticks=ticks_d, ang=-45,
         y=lin_axis(100, 20, "{:.2f}"), p=pr_axis(200, 100), st=(63, 1338), dash="dash"),
    dict(g=3, r=0, c=1, kind="bod", dates=dates_bcd, sim=d_bod_sim, obs=d_bod_obs, pr=D_PR, ticks=ticks_d, ang=-90,
         y=log_axis(1, 6), p=pr_axis(300, 100), st=(404, 1413)),
    dict(g=3, r=1, c=0, kind="tn", dates=dates_bcd, sim=d_tn_sim, obs=d_tn_obs, pr=D_PR, ticks=ticks_d, ang=-90,
         y=log_axis(2, 6), p=pr_axis(100, 20), st=(53, 1546)),
    dict(g=3, r=1, c=1, kind="tp", dates=dates_bcd, sim=d_tp_sim, obs=d_tp_obs, pr=D_PR, ticks=ticks_d, ang=-90,
         y=log_axis(0, 4), p=pr_axis(300, 100), st=(404, 1613)),
]


def sfx(k):
    return "" if k == 1 else str(k)


def X(px):
    return px / W


def Y(py):
    return 1 - py / H


fig = go.Figure()
layout = {}
annotations = []
shapes = []

for n, P in enumerate(panels, start=1):
    bx0, bx1 = COLS[P["c"]]
    by0, by1 = BOXES[(P["g"], P["r"])]
    x0, x1 = bx0 + 42, bx0 + 291
    y0, y1 = by0 + 20, by1 - 40
    xid = "x" + sfx(n)
    ybase = "y" + sfx(2 * n - 1)
    ydata = "y" + sfx(2 * n)

    shapes.append(dict(type="rect", xref="paper", yref="paper", x0=X(bx0), x1=X(bx1),
                       y0=Y(by1), y1=Y(by0), line=dict(color=BOXLINE, width=1),
                       fillcolor="white", layer="below"))

    fig.add_trace(go.Bar(x=P["pr"][0], y=P["pr"][1], xaxis=xid, yaxis=ybase, name=legend_names[0],
                         marker=dict(color=BLUE, line=dict(width=0)), width=3 * 86400000,
                         showlegend=False, hoverinfo="skip"))
    fig.add_trace(go.Scatter(x=P["dates"], y=P["sim"], xaxis=xid, yaxis=ydata, mode="lines", name=legend_names[1],
                             line=dict(color=RED, width=1.1), showlegend=False, connectgaps=True))
    if P["kind"] == "flow":
        fig.add_trace(go.Scatter(x=P["dates"], y=P["obs"], xaxis=xid, yaxis=ydata, mode="lines",
                                 name=legend_names[2], showlegend=False,
                                 line=dict(color="black", width=1.2, dash=P["dash"])))
    else:
        fig.add_trace(go.Scatter(x=P["dates"], y=P["obs"], xaxis=xid, yaxis=ydata, mode="markers",
                                 name=legend_names[2], showlegend=False,
                                 marker=dict(color="black", size=3.6)))

    t = P["ticks"]
    start = (pd.Timestamp(t[0]) - pd.Timedelta(days=4)).strftime("%Y-%m-%d")
    end = (pd.Timestamp(t[-1]) + pd.Timedelta(days=6)).strftime("%Y-%m-%d")
    layout["xaxis" + sfx(n)] = dict(domain=[X(x0), X(x1)], anchor=ybase, type="date", range=[start, end],
                                    tickmode="array", tickvals=t, ticktext=t, tickangle=P["ang"],
                                    tickfont=TICKFONT, showgrid=True, gridcolor=GRID, gridwidth=0.6,
                                    showline=True, linecolor="#c8c8c8", linewidth=0.8, ticks="",
                                    zeroline=False, fixedrange=True)
    pa = P["p"]
    layout["yaxis" + sfx(2 * n - 1)] = dict(domain=[Y(y1), Y(y0)], anchor=xid, side="right",
                                            range=pa["range"], tickmode="array", tickvals=pa["tickvals"],
                                            ticktext=pa["ticktext"], tickfont=TICKFONT, showgrid=False,
                                            zeroline=False, showline=False, ticks="", fixedrange=True)
    ya = P["y"]
    layout["yaxis" + sfx(2 * n)] = dict(overlaying=ybase, anchor=xid, side="left", type=ya["type"],
                                        range=ya["range"], tickmode="array", tickvals=ya["tickvals"],
                                        ticktext=ya["ticktext"], tickfont=TICKFONT, showgrid=True,
                                        gridcolor=GRID, gridwidth=0.6, zeroline=False, showline=False,
                                        ticks="", fixedrange=True)

    # ----- legend (drawn row) -----
    ly = by0 + 12
    shapes.append(dict(type="rect", xref="paper", yref="paper", x0=X(bx0 + 43), x1=X(bx0 + 54),
                       y0=Y(ly + 2), y1=Y(ly - 2), fillcolor="#34449f", line=dict(width=0)))
    annotations.append(dict(x=X(bx0 + 55), y=Y(ly), xref="paper", yref="paper", text=legend_names[0],
                            showarrow=False, xanchor="left", yanchor="middle", font=LEGFONT))
    shapes.append(dict(type="line", xref="paper", yref="paper", x0=X(bx0 + 121), x1=X(bx0 + 132),
                       y0=Y(ly), y1=Y(ly), line=dict(color=RED, width=1.5)))
    annotations.append(dict(x=X(bx0 + 133), y=Y(ly), xref="paper", yref="paper", text=legend_names[1],
                            showarrow=False, xanchor="left", yanchor="middle", font=LEGFONT))
    if P["kind"] == "flow":
        shapes.append(dict(type="line", xref="paper", yref="paper", x0=X(bx0 + 176), x1=X(bx0 + 188),
                           y0=Y(ly), y1=Y(ly), line=dict(color="black", width=1.5, dash=P["dash"])))
        annotations.append(dict(x=X(bx0 + 189), y=Y(ly), xref="paper", yref="paper", text=legend_names[2],
                                showarrow=False, xanchor="left", yanchor="middle", font=LEGFONT))
    else:
        shapes.append(dict(type="circle", xref="paper", yref="paper", x0=X(bx0 + 178.5), x1=X(bx0 + 181.5),
                           y0=Y(ly + 1.5), y1=Y(ly - 1.5), fillcolor="black", line=dict(width=0)))
        annotations.append(dict(x=X(bx0 + 187), y=Y(ly), xref="paper", yref="paper", text=legend_names[2],
                                showarrow=False, xanchor="left", yanchor="middle", font=LEGFONT))

    # ----- axis titles -----
    ymid = Y((y0 + y1) / 2)
    annotations.append(dict(x=X(bx0 + 11), y=ymid, xref="paper", yref="paper", text=ytitles[P["kind"]],
                            textangle=-90, showarrow=False, xanchor="center", yanchor="middle",
                            font=dict(family=SERIF, size=10, color="#111111", weight="bold")))
    annotations.append(dict(x=X(bx1 - 11), y=ymid, xref="paper", yref="paper", text="Precipitation(mm)",
                            textangle=-90, showarrow=False, xanchor="center", yanchor="middle",
                            font=dict(family=SERIF, size=10, color="#111111", weight="bold")))
    # ----- statistics -----
    s1, s2 = stats[n - 1]
    sx, sy = P["st"]
    annotations.append(dict(x=X(sx), y=Y(sy), xref="paper", yref="paper",
                            text=f"All period (R<sup>2</sup>,NSE): {s1}", showarrow=False,
                            xanchor="left", yanchor="middle",
                            font=dict(family=SERIF, size=10.5, color="#111111", weight="bold")))
    annotations.append(dict(x=X(sx), y=Y(sy + 12.5), xref="paper", yref="paper",
                            text=f"Dry season period (%diff.): {s2}", showarrow=False,
                            xanchor="left", yanchor="middle",
                            font=dict(family=SERIF, size=10.5, color="#111111", weight="bold")))

for cap, cy in zip(captions, CAPTION_Y):
    annotations.append(dict(x=X(354), y=Y(cy), xref="paper", yref="paper", text=cap, showarrow=False,
                            xanchor="center", yanchor="middle",
                            font=dict(family=SERIF, size=22, color="#000000", weight="bold")))
annotations.append(dict(x=X(11), y=Y(1725), xref="paper", yref="paper",
                        text="<b>Fig. 6</b> The result of flow and water quality calibration", showarrow=False,
                        xanchor="left", yanchor="middle",
                        font=dict(family="Liberation Sans Narrow, Liberation Sans, Arial", size=15, color="#111111")))

fig.update_layout(**layout)
fig.update_layout(width=W, height=H, autosize=False, margin=dict(l=0, r=0, t=0, b=0),
                  paper_bgcolor="white", plot_bgcolor="rgba(0,0,0,0)", showlegend=False,
                  annotations=annotations, shapes=shapes, bargap=0)

fig.write_html("out.html", config={"displayModeBar": False})
